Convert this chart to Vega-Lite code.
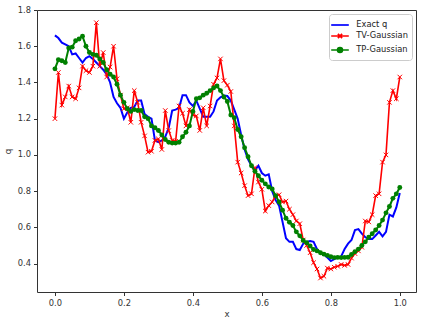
{
"$schema": "https://vega.github.io/schema/vega-lite/v6.json",
"width": 379, "height": 282,
"autosize": "none",
"padding": {"left": 37, "top": 10, "right": 7, "bottom": 32},
"config": {
  "font": "DejaVu Sans",
  "view": {"stroke": "#333", "strokeWidth": 1},
  "axis": {"grid": false, "domain": false, "tickColor": "#333", "tickSize": 3.5, "labelFontSize": 8.3, "labelColor": "#333", "titleFontSize": 8.6, "titleFontWeight": "normal", "titleColor": "#333", "labelPadding": 3}
},
"data": {"values": [
{"x":0.00,"Exact q":1.66,"TV-Gaussian":1.20,"TP-Gaussian":1.475},
{"x":0.01,"Exact q":1.645,"TV-Gaussian":1.455,"TP-Gaussian":1.525},
{"x":0.02,"Exact q":1.62,"TV-Gaussian":1.275,"TP-Gaussian":1.52},
{"x":0.03,"Exact q":1.61,"TV-Gaussian":1.32,"TP-Gaussian":1.51},
{"x":0.04,"Exact q":1.60,"TV-Gaussian":1.38,"TP-Gaussian":1.59},
{"x":0.05,"Exact q":1.555,"TV-Gaussian":1.32,"TP-Gaussian":1.595},
{"x":0.06,"Exact q":1.56,"TV-Gaussian":1.31,"TP-Gaussian":1.63},
{"x":0.07,"Exact q":1.535,"TV-Gaussian":1.37,"TP-Gaussian":1.64},
{"x":0.08,"Exact q":1.51,"TV-Gaussian":1.49,"TP-Gaussian":1.655},
{"x":0.09,"Exact q":1.535,"TV-Gaussian":1.465,"TP-Gaussian":1.60},
{"x":0.10,"Exact q":1.545,"TV-Gaussian":1.455,"TP-Gaussian":1.565},
{"x":0.11,"Exact q":1.53,"TV-Gaussian":1.49,"TP-Gaussian":1.555},
{"x":0.12,"Exact q":1.51,"TV-Gaussian":1.73,"TP-Gaussian":1.55},
{"x":0.13,"Exact q":1.49,"TV-Gaussian":1.49,"TP-Gaussian":1.53},
{"x":0.14,"Exact q":1.47,"TV-Gaussian":1.565,"TP-Gaussian":1.51},
{"x":0.15,"Exact q":1.445,"TV-Gaussian":1.43,"TP-Gaussian":1.47},
{"x":0.16,"Exact q":1.40,"TV-Gaussian":1.485,"TP-Gaussian":1.445},
{"x":0.17,"Exact q":1.32,"TV-Gaussian":1.60,"TP-Gaussian":1.43},
{"x":0.18,"Exact q":1.285,"TV-Gaussian":1.42,"TP-Gaussian":1.39},
{"x":0.19,"Exact q":1.26,"TV-Gaussian":1.33,"TP-Gaussian":1.33},
{"x":0.20,"Exact q":1.20,"TV-Gaussian":1.255,"TP-Gaussian":1.29},
{"x":0.21,"Exact q":1.235,"TV-Gaussian":1.26,"TP-Gaussian":1.255},
{"x":0.22,"Exact q":1.26,"TV-Gaussian":1.18,"TP-Gaussian":1.24},
{"x":0.23,"Exact q":1.265,"TV-Gaussian":1.355,"TP-Gaussian":1.25},
{"x":0.24,"Exact q":1.30,"TV-Gaussian":1.29,"TP-Gaussian":1.245},
{"x":0.25,"Exact q":1.30,"TV-Gaussian":1.18,"TP-Gaussian":1.245},
{"x":0.26,"Exact q":1.225,"TV-Gaussian":1.105,"TP-Gaussian":1.21},
{"x":0.27,"Exact q":1.21,"TV-Gaussian":1.015,"TP-Gaussian":1.20},
{"x":0.28,"Exact q":1.20,"TV-Gaussian":1.02,"TP-Gaussian":1.16},
{"x":0.29,"Exact q":1.08,"TV-Gaussian":1.08,"TP-Gaussian":1.15},
{"x":0.30,"Exact q":1.07,"TV-Gaussian":1.088,"TP-Gaussian":1.135},
{"x":0.31,"Exact q":1.08,"TV-Gaussian":1.03,"TP-Gaussian":1.11},
{"x":0.32,"Exact q":1.10,"TV-Gaussian":1.245,"TP-Gaussian":1.085},
{"x":0.33,"Exact q":1.15,"TV-Gaussian":1.134,"TP-Gaussian":1.07},
{"x":0.34,"Exact q":1.245,"TV-Gaussian":1.08,"TP-Gaussian":1.065},
{"x":0.35,"Exact q":1.25,"TV-Gaussian":1.075,"TP-Gaussian":1.065},
{"x":0.36,"Exact q":1.26,"TV-Gaussian":1.27,"TP-Gaussian":1.07},
{"x":0.37,"Exact q":1.33,"TV-Gaussian":1.23,"TP-Gaussian":1.10},
{"x":0.38,"Exact q":1.33,"TV-Gaussian":1.16,"TP-Gaussian":1.125},
{"x":0.39,"Exact q":1.29,"TV-Gaussian":1.25,"TP-Gaussian":1.16},
{"x":0.40,"Exact q":1.27,"TV-Gaussian":1.22,"TP-Gaussian":1.24},
{"x":0.41,"Exact q":1.30,"TV-Gaussian":1.215,"TP-Gaussian":1.31},
{"x":0.42,"Exact q":1.255,"TV-Gaussian":1.135,"TP-Gaussian":1.315},
{"x":0.43,"Exact q":1.21,"TV-Gaussian":1.26,"TP-Gaussian":1.33},
{"x":0.44,"Exact q":1.21,"TV-Gaussian":1.16,"TP-Gaussian":1.34},
{"x":0.45,"Exact q":1.21,"TV-Gaussian":1.27,"TP-Gaussian":1.355},
{"x":0.46,"Exact q":1.24,"TV-Gaussian":1.39,"TP-Gaussian":1.37},
{"x":0.47,"Exact q":1.30,"TV-Gaussian":1.425,"TP-Gaussian":1.38},
{"x":0.48,"Exact q":1.318,"TV-Gaussian":1.53,"TP-Gaussian":1.355},
{"x":0.49,"Exact q":1.328,"TV-Gaussian":1.41,"TP-Gaussian":1.32},
{"x":0.50,"Exact q":1.325,"TV-Gaussian":1.385,"TP-Gaussian":1.295},
{"x":0.51,"Exact q":1.30,"TV-Gaussian":1.35,"TP-Gaussian":1.22},
{"x":0.52,"Exact q":1.25,"TV-Gaussian":1.16,"TP-Gaussian":1.205},
{"x":0.53,"Exact q":1.20,"TV-Gaussian":0.96,"TP-Gaussian":1.14},
{"x":0.54,"Exact q":1.11,"TV-Gaussian":0.90,"TP-Gaussian":1.10},
{"x":0.55,"Exact q":1.03,"TV-Gaussian":0.83,"TP-Gaussian":1.04},
{"x":0.56,"Exact q":0.975,"TV-Gaussian":0.775,"TP-Gaussian":0.99},
{"x":0.57,"Exact q":0.94,"TV-Gaussian":0.785,"TP-Gaussian":0.94},
{"x":0.58,"Exact q":0.915,"TV-Gaussian":0.93,"TP-Gaussian":0.91},
{"x":0.59,"Exact q":0.94,"TV-Gaussian":0.85,"TP-Gaussian":0.885},
{"x":0.60,"Exact q":0.90,"TV-Gaussian":0.81,"TP-Gaussian":0.86},
{"x":0.61,"Exact q":0.885,"TV-Gaussian":0.69,"TP-Gaussian":0.84},
{"x":0.62,"Exact q":0.893,"TV-Gaussian":0.72,"TP-Gaussian":0.823},
{"x":0.63,"Exact q":0.80,"TV-Gaussian":0.74,"TP-Gaussian":0.812},
{"x":0.64,"Exact q":0.75,"TV-Gaussian":0.775,"TP-Gaussian":0.775},
{"x":0.65,"Exact q":0.72,"TV-Gaussian":0.78,"TP-Gaussian":0.74},
{"x":0.66,"Exact q":0.63,"TV-Gaussian":0.74,"TP-Gaussian":0.695},
{"x":0.67,"Exact q":0.54,"TV-Gaussian":0.745,"TP-Gaussian":0.65},
{"x":0.68,"Exact q":0.52,"TV-Gaussian":0.70,"TP-Gaussian":0.628},
{"x":0.69,"Exact q":0.52,"TV-Gaussian":0.67,"TP-Gaussian":0.61},
{"x":0.70,"Exact q":0.48,"TV-Gaussian":0.635,"TP-Gaussian":0.575},
{"x":0.71,"Exact q":0.475,"TV-Gaussian":0.62,"TP-Gaussian":0.553},
{"x":0.72,"Exact q":0.51,"TV-Gaussian":0.53,"TP-Gaussian":0.527},
{"x":0.73,"Exact q":0.52,"TV-Gaussian":0.50,"TP-Gaussian":0.515},
{"x":0.74,"Exact q":0.525,"TV-Gaussian":0.46,"TP-Gaussian":0.497},
{"x":0.75,"Exact q":0.52,"TV-Gaussian":0.405,"TP-Gaussian":0.478},
{"x":0.76,"Exact q":0.48,"TV-Gaussian":0.37,"TP-Gaussian":0.47},
{"x":0.77,"Exact q":0.46,"TV-Gaussian":0.32,"TP-Gaussian":0.46},
{"x":0.78,"Exact q":0.45,"TV-Gaussian":0.33,"TP-Gaussian":0.452},
{"x":0.79,"Exact q":0.433,"TV-Gaussian":0.375,"TP-Gaussian":0.445},
{"x":0.80,"Exact q":0.414,"TV-Gaussian":0.37,"TP-Gaussian":0.438},
{"x":0.81,"Exact q":0.425,"TV-Gaussian":0.38,"TP-Gaussian":0.433},
{"x":0.82,"Exact q":0.433,"TV-Gaussian":0.385,"TP-Gaussian":0.434},
{"x":0.83,"Exact q":0.44,"TV-Gaussian":0.395,"TP-Gaussian":0.433},
{"x":0.84,"Exact q":0.48,"TV-Gaussian":0.39,"TP-Gaussian":0.434},
{"x":0.85,"Exact q":0.51,"TV-Gaussian":0.395,"TP-Gaussian":0.435},
{"x":0.86,"Exact q":0.53,"TV-Gaussian":0.43,"TP-Gaussian":0.45},
{"x":0.87,"Exact q":0.585,"TV-Gaussian":0.455,"TP-Gaussian":0.465},
{"x":0.88,"Exact q":0.59,"TV-Gaussian":0.47,"TP-Gaussian":0.48},
{"x":0.89,"Exact q":0.565,"TV-Gaussian":0.49,"TP-Gaussian":0.50},
{"x":0.90,"Exact q":0.545,"TV-Gaussian":0.635,"TP-Gaussian":0.52},
{"x":0.91,"Exact q":0.535,"TV-Gaussian":0.63,"TP-Gaussian":0.545},
{"x":0.92,"Exact q":0.535,"TV-Gaussian":0.67,"TP-Gaussian":0.565},
{"x":0.93,"Exact q":0.555,"TV-Gaussian":0.775,"TP-Gaussian":0.585},
{"x":0.94,"Exact q":0.575,"TV-Gaussian":0.785,"TP-Gaussian":0.61},
{"x":0.95,"Exact q":0.55,"TV-Gaussian":0.96,"TP-Gaussian":0.64},
{"x":0.96,"Exact q":0.575,"TV-Gaussian":1.00,"TP-Gaussian":0.68},
{"x":0.97,"Exact q":0.67,"TV-Gaussian":1.29,"TP-Gaussian":0.715},
{"x":0.98,"Exact q":0.66,"TV-Gaussian":1.355,"TP-Gaussian":0.76},
{"x":0.99,"Exact q":0.71,"TV-Gaussian":1.31,"TP-Gaussian":0.785},
{"x":1.00,"Exact q":0.79,"TV-Gaussian":1.43,"TP-Gaussian":0.82}
]},
"transform": [{"fold": ["Exact q", "TV-Gaussian", "TP-Gaussian"], "as": ["series", "q"]}],
"encoding": {
  "x": {"field": "x", "type": "quantitative", "scale": {"domain": [-0.052, 1.047], "nice": false, "zero": false},
        "axis": {"values": [0, 0.2, 0.4, 0.6, 0.8, 1.0], "format": ".1f", "title": "x", "titlePadding": 3}},
  "y": {"field": "q", "type": "quantitative", "scale": {"domain": [0.243, 1.8], "nice": false, "zero": false},
        "axis": {"values": [0.4, 0.6, 0.8, 1.0, 1.2, 1.4, 1.6, 1.8], "format": ".1f", "title": "q", "titlePadding": 5}},
  "color": {"field": "series", "type": "nominal",
            "scale": {"domain": ["Exact q", "TV-Gaussian", "TP-Gaussian"], "range": ["#0000ff", "#ff0000", "#008000"]},
            "legend": {"title": null, "orient": "top-right", "offset": 4, "padding": 3.5,
                       "fillColor": "white", "strokeColor": "#cccccc", "cornerRadius": 3,
                       "labelFontSize": 8.3, "labelColor": "#222", "labelOffset": 8.8,
                       "symbolSize": 165, "rowPadding": 0,
                       "encode": {"symbols": {"update": {
                          "shape": {"signal": "datum.value === 'TV-Gaussian' ? 'M-1.37,0H1.37M-0.33,-0.33L0.33,0.33M-0.33,0.33L0.33,-0.33' : datum.value === 'TP-Gaussian' ? 'M-1.37,0H1.37M0.38,0A0.38,0.38 0 1 1 -0.38,0A0.38,0.38 0 1 1 0.38,0Z' : 'M-1.37,0H1.37'"},
                          "fill": {"signal": "scale('color', datum.value)"},
                          "stroke": {"signal": "scale('color', datum.value)"},
                          "strokeWidth": {"value": 1.7},
                          "opacity": {"value": 1}}}}}}
},
"layer": [
  {"transform": [{"filter": "datum.series === 'Exact q'"}], "mark": {"type": "line", "strokeWidth": 2}},
  {"transform": [{"filter": "datum.series === 'TV-Gaussian'"}], "mark": {"type": "line", "strokeWidth": 1.6}},
  {"transform": [{"filter": "datum.series === 'TV-Gaussian'"}], "mark": {"type": "point", "shape": "M-1,-1L1,1M-1,1L1,-1", "size": 20, "strokeWidth": 1, "filled": false, "opacity": 1}},
  {"transform": [{"filter": "datum.series === 'TP-Gaussian'"}], "mark": {"type": "line", "strokeWidth": 2}},
  {"transform": [{"filter": "datum.series === 'TP-Gaussian'"}], "mark": {"type": "circle", "size": 24, "opacity": 1}}
]
}
